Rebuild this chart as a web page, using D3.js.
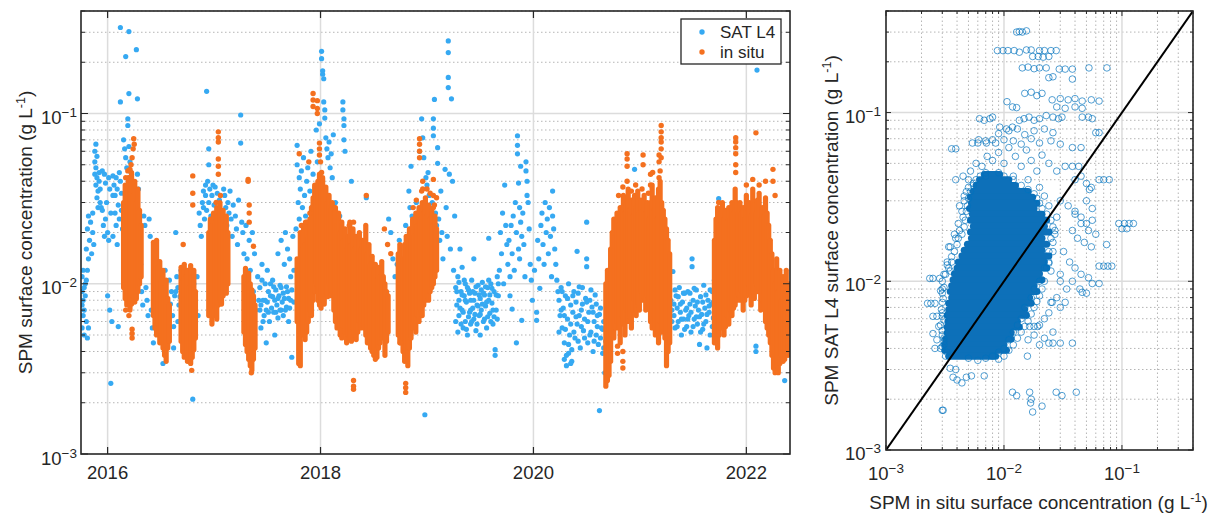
<!DOCTYPE html>
<html lang="en">
<head>
<meta charset="UTF-8">
<title>SPM SAT L4 vs in situ</title>
<script src="https://d3js.org/d3.v7.min.js"></script>
<style>
    body { margin: 0; background: #fff; }
    text { font-family: "Liberation Sans", Arial, Helvetica, sans-serif; fill: #262626; }
</style>
</head>
<body>
<script>
// all concentrations below are in mg/L (= 1e-3 g/L), time in decimal years

// satellite L4 series, [year, mg/L]
const satL4 = [
 [2015.76,11],[2015.76,9],[2015.76,7.5],[2015.76,5.5],[2015.77,12],[2015.77,8],[2015.77,6.5],[2015.78,9.5],[2015.78,7],[2015.78,5],[2015.79,10],[2015.79,8.5],[2015.8,10.5],[2015.8,6],[2015.81,12],[2015.81,4.8],[2015.82,14],[2015.82,5.5],
 [2015.8,16],[2015.81,21],[2015.82,25],[2015.83,18],[2015.84,23],[2015.85,15],[2015.86,20],[2015.86,26],[2015.87,17],
 [2015.88,60],[2015.88,52],[2015.88,44],[2015.89,66],[2015.89,48],[2015.89,38],[2015.9,56],[2015.9,42],[2015.9,32],[2015.91,35],[2015.91,28],[2015.92,45],[2015.92,40],[2015.93,36],[2015.93,30],[2015.94,28],
 [2015.95,46],[2015.95,27],[2015.96,22],[2015.97,44],[2015.97,19],[2015.98,39],[2015.98,24],[2015.99,30],[2016.0,20],[2016.0,8.5],[2016.01,42],[2016.01,18],[2016.02,36],[2016.02,7],[2016.03,2.6],[2016.03,26],[2016.04,6],[2016.05,33],
 [2016.05,43],[2016.05,19],[2016.06,38],[2016.07,33],[2016.07,26],[2016.08,42],[2016.08,22],[2016.09,36],[2016.09,17],[2016.1,29],[2016.1,5.6],[2016.11,45],[2016.11,24],
 [2016.12,320],[2016.12,117],[2016.12,40],[2016.13,34],[2016.13,27],[2016.14,21],[2016.15,16],[2016.15,70],[2016.16,62],[2016.17,216],[2016.17,55],[2016.18,48],[2016.19,93],[2016.19,85],
 [2016.2,303],[2016.2,131],[2016.2,64],[2016.21,52],[2016.22,45],[2016.23,38],[2016.24,33],[2016.25,25],[2016.26,30],[2016.27,237],[2016.28,122],[2016.28,44],[2016.29,36],[2016.3,20],[2016.31,13],[2016.32,9],[2016.33,7.5],
 [2016.34,25],[2016.35,22],[2016.36,9.5],[2016.37,8],[2016.38,6.5],[2016.39,24],[2016.4,19],[2016.41,7],[2016.42,5.5],[2016.43,4.5],[2016.44,10],
 [2016.48,13],[2016.49,11],[2016.5,9],[2016.51,6],[2016.52,4.5],[2016.52,3.4],[2016.54,12],[2016.55,8],[2016.56,5.5],[2016.57,7],[2016.58,10.5],[2016.6,9],[2016.61,6.5],[2016.62,4.2],[2016.63,8.5],[2016.64,20],[2016.65,11],[2016.66,9.5],[2016.67,7.5],[2016.68,6],[2016.69,12],[2016.7,10],[2016.71,5],[2016.72,4],
 [2016.47,8],[2016.5,6.8],[2016.53,9.6],[2016.55,4.4],[2016.57,5.8],[2016.59,7.6],[2016.62,5.6],[2016.64,9],[2016.66,6],[2016.68,8.4],[2016.7,7.2],[2016.71,6.4],
 [2016.74,11.5],[2016.75,9],[2016.77,7],[2016.78,12],[2016.8,2.1],[2016.81,10],[2016.82,8],[2016.84,11],[2016.85,6.5],
 [2016.86,26],[2016.87,22],[2016.88,19],[2016.89,30],[2016.9,35],[2016.9,28],[2016.91,24],[2016.92,38],[2016.92,33],[2016.93,135],[2016.93,27],[2016.94,40],[2016.95,62],[2016.95,50],[2016.95,30],[2016.96,36],[2016.97,25],[2016.98,33],[2016.98,21],[2016.99,38],[2017.0,29],[2017.01,37],[2017.02,26],[2017.03,34],[2017.04,20],[2017.05,31],[2017.06,18],[2017.07,24],
 [2017.09,36],[2017.1,33],[2017.11,28],[2017.12,22],[2017.13,30],[2017.14,26],[2017.15,35],[2017.16,24],[2017.17,19],[2017.18,29],[2017.2,25],[2017.21,21],[2017.22,17],[2017.23,31],[2017.25,98],[2017.25,67],[2017.26,23],[2017.27,20],[2017.28,15],
 [2017.3,22],[2017.31,14],[2017.33,18],[2017.34,12],[2017.36,20],[2017.37,9],[2017.38,15],[2017.39,7],[2017.41,11],[2017.42,8],
 [2017.43,9.5],[2017.44,7.5],[2017.44,5.5],[2017.45,13],[2017.46,8],[2017.47,6.5],[2017.48,10],[2017.49,7],[2017.49,4.5],[2017.5,12],[2017.51,9],[2017.52,6],[2017.53,8.5],[2017.54,7.2],[2017.55,10.5],[2017.56,6.8],[2017.57,8],[2017.57,5],[2017.58,9.2],[2017.59,7.5],[2017.6,15],[2017.6,6.3],
 [2017.61,8.5],[2017.62,7],[2017.63,18],[2017.63,9.5],[2017.64,7.8],[2017.65,6.5],[2017.66,13],[2017.66,8.2],[2017.67,20],[2017.68,7.3],[2017.69,16],[2017.69,9],[2017.7,6],[2017.71,14],[2017.72,11],[2017.72,8],[2017.73,3.7],[2017.74,19],[2017.75,12],
 [2017.43,7],[2017.45,10.5],[2017.46,6],[2017.48,8],[2017.5,7.8],[2017.51,6.8],[2017.53,10],[2017.55,8.4],[2017.56,9.6],[2017.58,6.8],[2017.6,8.2],[2017.62,9.8],[2017.63,7],[2017.65,8.8],[2017.67,7],[2017.68,9.6],[2017.7,8.2],[2017.71,7.2],[2017.73,9.2],[2017.75,7.8],
 [2017.77,21],[2017.78,65],[2017.78,50],[2017.79,30],[2017.8,42],[2017.8,24],[2017.81,36],[2017.82,46],[2017.83,28],[2017.84,55],[2017.85,33],[2017.86,25],[2017.87,40],[2017.88,48],[2017.89,22],[2017.9,35],[2017.91,60],[2017.92,28],[2017.93,44],[2017.95,37],[2017.96,80],[2017.97,52],
 [2017.99,87],[2018.01,232],[2018.01,210],[2018.02,178],[2018.02,170],[2018.03,160],[2018.03,117],[2018.04,105],[2018.04,94],[2018.05,72],[2018.06,62],[2018.07,55],[2018.08,68],[2018.09,48],[2018.1,58],[2018.11,42],[2018.12,75],
 [2018.14,30],[2018.18,25],[2018.21,117],[2018.21,105],[2018.22,93],[2018.22,85],[2018.22,70],[2018.23,60],[2018.26,12],[2018.29,40],[2018.33,8],[2018.38,6],[2018.43,32],
 [2018.44,9],[2018.47,6],[2018.5,10.5],[2018.53,7],[2018.56,5],[2018.6,8],[2018.62,6.5],
 [2018.64,24],[2018.66,20],[2018.68,14],[2018.7,11],[2018.72,13],[2018.74,18],[2018.76,10],[2018.78,12.5],[2018.8,22],[2018.82,16],[2018.83,35],[2018.84,28],[2018.85,49],[2018.86,25],[2018.88,19],[2018.9,30],
 [2018.93,60],[2018.95,93],[2018.96,72],[2018.97,55],[2018.98,1.7],[2018.99,42],[2019.0,38],[2019.01,45],[2019.02,33],[2019.03,28],[2019.05,30],[2019.06,93],[2019.06,82],[2019.06,74],[2019.07,121],[2019.08,26],[2019.09,22],[2019.1,63],[2019.1,51],[2019.11,24],[2019.12,18],
 [2019.13,35],[2019.14,20],[2019.15,14],[2019.17,47],[2019.18,28],[2019.19,19],[2019.2,267],[2019.2,228],[2019.2,163],[2019.2,142],[2019.21,44],[2019.22,16],[2019.23,122],[2019.24,40],[2019.25,12],[2019.26,25],
 [2019.27,9.5],[2019.28,7.5],[2019.29,11],[2019.3,8],[2019.3,6.5],[2019.31,16],[2019.32,9],[2019.33,12.5],[2019.33,7],[2019.34,5.5],[2019.35,8.5],[2019.36,10],[2019.36,6],[2019.37,7.8],[2019.38,5],[2019.39,9.2],[2019.4,6.8],[2019.41,8],[2019.41,5.8],[2019.42,10.5],[2019.43,7.2],[2019.44,14],[2019.44,6.2],
 [2019.45,8.8],[2019.46,5.3],[2019.47,7.5],[2019.48,9.8],[2019.49,6.5],[2019.5,8.2],[2019.5,5],[2019.51,7],[2019.52,10.2],[2019.53,6],[2019.54,8.6],[2019.55,7.4],[2019.56,5.5],[2019.57,9.5],[2019.58,18.5],[2019.58,8],[2019.59,6.7],[2019.6,10],[2019.61,7.7],[2019.62,5.8],[2019.63,9],[2019.64,4.1],[2019.64,3.8],[2019.65,7],[2019.66,11],[2019.67,8.5],
 [2019.27,6],[2019.28,9],[2019.29,5.2],[2019.3,10.2],[2019.31,7.2],[2019.32,5.8],[2019.33,8.6],[2019.34,6.8],[2019.35,10.5],[2019.36,8],[2019.37,5.4],[2019.38,9.5],[2019.39,6.4],[2019.4,8.8],[2019.41,7],[2019.42,6],[2019.43,9],[2019.44,8],[2019.45,6.6],[2019.46,9.6],
 [2019.47,5.8],[2019.48,7.4],[2019.49,8.6],[2019.5,6.6],[2019.51,9.2],[2019.52,7.6],[2019.53,8.8],[2019.54,6.2],[2019.55,9.6],[2019.56,7.8],[2019.57,6.4],[2019.58,10.5],[2019.59,8.6],[2019.6,6],[2019.61,9.4],[2019.62,7],[2019.63,6.4],[2019.65,8.6],[2019.66,6.2],[2019.67,10],
 [2019.68,12],[2019.69,20],[2019.7,15],[2019.71,26],[2019.72,10],[2019.73,38],[2019.74,22],[2019.75,17],
 [2019.76,13],[2019.77,18],[2019.78,11],[2019.78,8.5],[2019.79,22],[2019.8,15],[2019.8,7.1],[2019.81,25],[2019.82,12],[2019.83,30],[2019.84,20],[2019.84,4.5],[2019.85,74],[2019.85,65],[2019.85,58],[2019.86,39],[2019.86,16],[2019.87,28],[2019.87,14],[2019.88,49],[2019.88,23],[2019.89,6.1],[2019.89,19],
 [2019.9,26],[2019.91,17],[2019.92,11],[2019.93,52],[2019.93,46],[2019.94,40],[2019.94,33],[2019.95,30],[2019.96,21],[2019.97,13],[2019.98,10.5],[2019.99,8],
 [2020.01,12],[2020.03,6.8],[2020.03,6.1],[2020.04,18],[2020.05,14],[2020.06,9.4],[2020.07,22],[2020.08,26],[2020.09,17],[2020.1,13],[2020.11,30],[2020.12,20],[2020.13,24],[2020.14,15],[2020.15,28],[2020.16,19],[2020.17,11],[2020.18,35],[2020.18,25],[2020.19,21],[2020.2,16],[2020.21,13],[2020.22,10.5],[2020.23,9],
 [2020.24,8],[2020.25,6.5],[2020.26,9.5],[2020.27,5.5],[2020.28,7.2],[2020.29,4.5],[2020.3,8.5],[2020.31,3.8],[2020.32,6.2],[2020.33,10],[2020.34,5],[2020.35,7.5],[2020.36,3.5],[2020.37,6.8],[2020.38,9],[2020.39,4.8],[2020.4,7.8],[2020.41,15.5],[2020.41,5.8],[2020.42,8.8],[2020.43,6.5],[2020.44,4.2],
 [2020.45,7],[2020.46,9.5],[2020.47,5.3],[2020.48,6.2],[2020.49,8.2],[2020.5,23],[2020.5,14],[2020.5,12.6],[2020.51,4.5],[2020.52,6.8],[2020.53,8],[2020.54,5.2],[2020.55,7.3],[2020.56,4],[2020.57,6],[2020.58,8.6],[2020.59,5],[2020.6,6.5],[2020.61,4.4],[2020.62,1.8],[2020.63,7.2],[2020.64,5.5],[2020.65,3.9],[2020.66,6],[2020.67,3],[2020.68,4.6],
 [2020.24,5.2],[2020.26,7],[2020.27,9],[2020.29,6.5],[2020.3,5.4],[2020.32,8.2],[2020.33,4.4],[2020.35,5.8],[2020.37,8.5],[2020.38,5.2],[2020.4,6.4],[2020.42,4.6],[2020.43,9.6],[2020.45,5.6],[2020.46,7.6],[2020.48,4.8],[2020.5,7.8],[2020.51,6],[2020.53,5],[2020.54,9.2],
 [2020.56,6.8],[2020.57,4.6],[2020.59,7.6],[2020.6,5.6],[2020.62,6.6],[2020.63,4.8],[2020.65,5.4],[2020.66,4.2],[2020.29,3.6],[2020.31,3.3],[2020.33,3.9],[2020.35,3.4],[2020.36,4.1],
 [2020.85,12],[2020.9,9],[2020.95,47],[2020.97,20],[2020.99,14],[2021.0,30],[2021.02,11],[2021.04,18],[2021.06,9.5],[2021.08,22],
 [2021.28,9],[2021.3,7],[2021.31,11.8],[2021.32,6.5],[2021.33,5.5],[2021.34,8.5],[2021.35,7.2],[2021.36,6],[2021.37,9.5],[2021.38,6.8],[2021.39,5],[2021.4,7.8],[2021.41,6.2],[2021.42,8.8],[2021.43,7],[2021.44,5.6],[2021.45,9],[2021.46,6.5],[2021.47,7.6],[2021.48,5.2],[2021.49,14],[2021.49,12.6],
 [2021.5,8],[2021.51,6.2],[2021.52,7.4],[2021.53,9.2],[2021.54,5.8],[2021.55,7],[2021.56,4.4],[2021.57,8.4],[2021.58,6.6],[2021.59,5.4],[2021.6,9.8],[2021.61,7.2],[2021.62,6],[2021.63,4.2],[2021.64,8],[2021.65,6.8],[2021.66,5],[2021.67,7.6],[2021.68,9],[2021.69,6.3],[2021.7,10.5],
 [2021.29,8],[2021.3,6],[2021.32,7.6],[2021.33,9.2],[2021.35,5.6],[2021.36,8.4],[2021.38,7.6],[2021.39,6.2],[2021.41,8.8],[2021.42,5.4],[2021.44,7.2],[2021.45,6.2],[2021.47,8.8],[2021.48,6.8],
 [2021.5,5.6],[2021.51,9.4],[2021.53,6.4],[2021.54,7.8],[2021.56,6.4],[2021.57,5.2],[2021.59,7.8],[2021.6,5.8],[2021.62,8.6],[2021.63,6.6],[2021.65,7.4],[2021.66,9.2],[2021.68,5.6],[2021.69,7.8],
 [2021.74,31.6],[2021.75,25],[2021.8,20],[2021.86,24],[2021.9,16],[2021.95,22],[2022.0,28],[2022.03,19],[2022.06,30],[2022.09,4.3],[2022.09,4],[2022.1,180],[2022.12,21],[2022.15,17],[2022.18,26],[2022.22,12],[2022.25,5.6],[2022.28,4.8],[2022.31,6.5],[2022.33,4.2],[2022.36,2.7],[2022.38,5]
];

// in situ: dense daily stacks as [year, lowest, highest] ...
const inSituStacks = [
 [2016.15,9.5,30],[2016.165,8.2,38],[2016.18,7.5,34],[2016.195,8,42],[2016.21,7,36],[2016.225,7.6,45],[2016.24,8.5,33],[2016.255,7.8,40],[2016.27,8.2,30],[2016.285,9,36],[2016.3,10,27],[2016.315,11,22],
 [2016.43,6.5,17.5],[2016.445,5.5,14],[2016.46,5,18],[2016.475,5.8,12.5],[2016.49,4.5,13.5],[2016.505,4.8,10.5],[2016.52,4.2,12],[2016.535,3.8,9.5],[2016.55,3.5,10.5],[2016.565,4.2,8.2],[2016.58,4.6,7.5],
 [2016.69,4.6,12.5],[2016.705,4,10.5],[2016.72,3.7,13],[2016.735,3.9,11],[2016.75,3.5,12],[2016.765,3.6,9.5],[2016.78,3.4,12.8],[2016.795,3.7,11],[2016.81,4.1,12],[2016.825,4.8,9],
 [2016.95,6.5,20],[2016.965,7.5,24],[2016.98,5.8,22],[2016.995,6.5,26],[2017.01,7.2,23],[2017.025,6.2,28],[2017.04,7.5,25],[2017.055,8,30],[2017.07,7.6,24],[2017.085,8.5,27],[2017.1,9,22],[2017.115,8.8,25],[2017.13,10,20],
 [2017.28,5.2,11],[2017.295,4.4,12.3],[2017.31,4,10],[2017.325,3.6,11.5],[2017.34,3.3,10],[2017.355,3.1,9.2],[2017.37,3.6,8.5],[2017.385,4.2,7.5],
 [2017.78,6,14],[2017.795,3.4,12],[2017.81,3.3,20],[2017.825,5.5,16],[2017.84,5,22],[2017.855,4.7,17],[2017.87,5.2,23],[2017.885,6,19],[2017.9,7,24],[2017.915,6.5,28],[2017.93,8,32],[2017.945,9,38],
 [2017.96,10,36],[2017.975,8,40],[2017.99,7.5,44],[2018.005,7.2,38],[2018.02,8,42],[2018.035,7.6,35],[2018.05,9,37],[2018.065,8.4,30],[2018.08,10,33],[2018.095,8.5,28],[2018.11,9,30],[2018.125,7,26],
 [2018.14,6,28],[2018.155,5.5,22],[2018.17,6.5,26],[2018.185,5,20],[2018.2,4.8,23],[2018.215,5.6,18],[2018.23,5.2,21],[2018.245,4.5,16],[2018.26,5,19],[2018.275,4.8,23],[2018.29,4.6,17],[2018.305,5.5,21],[2018.32,5,16],[2018.335,4.7,19],[2018.35,5.2,15],[2018.365,6,20],[2018.38,5.5,16],[2018.395,6,18],
 [2018.41,5.5,18],[2018.425,5,22],[2018.44,4.5,15],[2018.455,4.8,17],[2018.47,4.2,13],[2018.485,4,14.5],[2018.5,3.8,12],[2018.515,3.6,13],[2018.53,3.7,10.5],[2018.545,4.2,12.5],[2018.56,4.5,11],[2018.575,4.8,13.5],[2018.59,5,11],[2018.605,3.8,10],[2018.62,4.6,9],[2018.635,5.2,8.5],
 [2018.73,5,15],[2018.745,4.5,17],[2018.76,4.8,13],[2018.775,4,14],[2018.79,3.5,17],[2018.805,3.8,19],[2018.82,3.3,16],[2018.835,4.2,21],[2018.85,4.8,18],[2018.865,5.5,24],[2018.88,6,19],[2018.895,5.2,26],[2018.91,6.5,22],
 [2018.925,6,28],[2018.94,7,24],[2018.955,6.5,30],[2018.97,7.5,26],[2018.985,8,32],[2019.0,8.5,25],[2019.015,8,29],[2019.03,9,24],[2019.045,9.5,27],[2019.06,10,22],[2019.075,11,25],[2019.09,12,21],
 [2020.68,2.5,10],[2020.695,2.7,12],[2020.71,2.9,9],[2020.725,3.5,16],[2020.74,5,20],[2020.755,4.8,24],[2020.77,5.5,19],[2020.785,6,26],[2020.8,5.5,22],[2020.815,4.5,28],[2020.83,6.5,24],[2020.845,5.8,33],[2020.86,5,26],[2020.875,7,30],
 [2020.89,6,36],[2020.905,6.4,27],[2020.92,5.5,31],[2020.935,7,25],[2020.95,8,33],[2020.965,6.5,28],[2020.98,7.5,35],[2020.995,7,26],[2021.01,9,31],[2021.025,8,27],[2021.04,8.4,33],[2021.055,7,26],[2021.07,8.5,30],[2021.085,7.5,24],
 [2021.1,6,30],[2021.115,5.5,38],[2021.13,6.5,27],[2021.145,5,32],[2021.16,5.4,24],[2021.175,4.5,36],[2021.19,6,40],[2021.205,5.2,30],[2021.22,5.5,27],[2021.235,4.8,24],[2021.25,3.3,21],[2021.265,4,18],[2021.28,4.5,15],
 [2021.7,4.5,18],[2021.715,5.2,24],[2021.73,4.2,28],[2021.745,5,22],[2021.76,5.5,26],[2021.775,6,30],[2021.79,5,24],[2021.805,5.6,27],[2021.82,6.5,23],[2021.835,5.8,28],[2021.85,7,24],[2021.865,6.5,30],[2021.88,7.2,26],[2021.895,7.5,36],[2021.91,8,30],[2021.925,8.6,26],
 [2021.94,8,30],[2021.955,9,26],[2021.97,7,28],[2021.985,8,24],[2022.0,8.5,33],[2022.015,10,27],[2022.03,8.6,30],[2022.045,7.5,25],[2022.06,9,36],[2022.075,8.2,29],[2022.09,10,26],[2022.105,9,31],[2022.12,9.4,34],[2022.135,7,24],[2022.15,8,28],[2022.165,7.2,25],[2022.18,6,32],[2022.195,5.5,26],[2022.21,5,22],
 [2022.225,4.5,18],[2022.24,3.8,15],[2022.255,3.2,12],[2022.27,3,10],[2022.285,3.3,14],[2022.3,3,9],[2022.315,3.4,12],[2022.33,3.8,8],[2022.345,3.5,11],[2022.36,3.6,8.5],[2022.375,4,12],[2022.39,3.8,9],[2022.405,4.2,10]
];

// ... and the scattered single in situ samples, [year, mg/L]
const inSituSingles = [
 [2016.17,42],[2016.19,46],[2016.21,47],[2016.22,50],[2016.23,55],[2016.24,62],[2016.245,71],[2016.25,66],[2016.23,5.4],[2016.23,5.1],[2016.23,4.8],[2016.17,7],[2016.2,6.5],
 [2016.71,17],[2016.79,3.1],[2016.8,43],[2016.8,34],[2016.8,29],
 [2017.04,78],[2017.04,72],[2017.04,68],[2017.04,54],[2017.04,49],[2017.04,44],[2017.06,33],[2017.02,30],
 [2017.32,41],[2017.32,40],[2017.33,29],[2017.33,26],[2017.33,23],[2017.35,3],[2017.37,16.6],
 [2017.8,58],[2017.82,22],[2017.86,23],[2017.89,52],[2017.9,26],[2017.93,131],[2017.93,120],[2017.93,110],[2017.97,119],[2017.97,107],[2017.97,100],[2017.99,67],[2017.99,62],[2017.99,57],[2018.0,52],[2018.01,45],
 [2018.13,28],[2018.27,22],[2018.31,23],[2018.31,2.7],[2018.31,2.5],[2018.31,2.4],[2018.43,33],[2018.6,21],[2018.63,17],[2018.66,15],[2018.75,4.5],
 [2018.8,2.6],[2018.8,2.45],[2018.8,2.3],[2018.87,28],[2018.9,31],[2018.93,71],[2018.93,66],[2018.93,60],[2018.93,55],[2018.95,35],[2018.96,40],[2018.96,36],[2019.0,36],[2019.03,34],[2019.06,41],[2019.06,33],[2019.06,28],[2019.07,29],[2019.09,32],
 [2020.79,4.3],[2020.79,3.9],[2020.8,33],[2020.84,4],[2020.84,3.5],[2020.84,3.2],[2020.84,37],[2020.88,40],[2020.88,58],[2020.88,54],[2020.88,49],[2020.92,35],[2020.96,38],[2021.02,36],[2021.03,57],[2021.03,50],[2021.08,34],
 [2021.1,44],[2021.1,38],[2021.12,45],[2021.18,42],[2021.18,57],[2021.18,52],[2021.19,46],[2021.2,85],[2021.2,78],[2021.2,72],[2021.2,68],[2021.2,62],[2021.2,55],
 [2021.74,30],[2021.9,45],[2021.9,72],[2021.9,68],[2021.9,63],[2021.9,58],[2021.9,50],[2022.0,38],[2022.06,41],[2022.09,77],[2022.12,38],[2022.18,40],[2022.25,47],[2022.25,40],[2022.27,33]
];

// matched pairs: dense core rows as [SAT L4, in situ lowest, in situ highest] ...
const pairRows = [
 [43,6.8,9.2],[40,6.2,11],[37,5.8,12.5],[34,5.5,16],[31.5,5.2,17.5],[29,5.3,19],[27,5.1,18],[25,5.4,21],[23,5.2,23],[21.2,5.5,22],[19.6,5.2,24],
 [18,5.3,21],[16.6,4.9,23],[15.3,4.6,21],[14.1,4.4,24],[13,4.1,22],[12,4,23],[11.1,3.8,20],[10.2,3.7,21],[9.4,3.6,18],[8.7,3.5,19],
 [8,3.6,16.5],[7.4,3.4,17],[6.8,3.4,15],[6.3,3.3,15.5],[5.8,3.35,13],[5.35,3.3,13.5],[4.95,3.3,11.5],[4.55,3.2,11.5],[4.2,3.15,10],[3.9,3.15,10.5],[3.6,3.4,8.5]
];

// ... and the individual pairs around it, [in situ, SAT L4]
const pairPoints = [
 [12.8,300],[13.5,302],[14.3,300],[15.5,305],
 [8.8,233],[9.8,233],[10.8,233],[12.2,233],[13.5,228],[15.5,235],[17,235],[20,233],[22,233],[25,233],[27.7,233],
 [17.5,215],[19.5,215],[21.5,213],[24,215],[14.3,184],[16,186],[18,182],[20,184],[22.8,184],[29.4,181],[33,181],[38,181],[52.5,184],[74.5,184],
 [24,161],[26,163],[38,158],[15,130],[17,132],[19,126],[21,130],[11.8,108],[10.6,116],[12.8,107],
 [25.6,119],[30,121],[35,119],[40,121],[46,117],[55,119],[64,117],[28,108],[33,106],[40,108],[46,106],
 [6.2,92],[6.8,90],[7.6,92],[8,94],[9.2,82],[10.5,80],[11.8,82],[13.5,90],[14.8,92],[16.3,94],[18,90],[20,92],[22.8,96],[26,94],[29,92],[31,94],[46,94],[52,94],[56,92],
 [3.6,61],[3.9,61],[5.4,66],[6.1,69],[7.1,66],[8,69],[10,69],
 [5.2,45],[5.8,50],[6.5,48],[7.2,55],[8,52],[9,58],[10,50],[11,62],[12.5,55],[14,48],[15.5,60],[17,52],[19,45],[21,56],[24,50],[28,45],[33,48],
 [6,66],[7,68],[8.5,66],[12,68],[14,65],[17,70],[20,66],[25,68],[30,65],[38,62],[45,62],[60,76],[64,76],
 [9,75],[11,78],[13,80],[15,74],[18,78],[22,80],[26,76],[40,40],[45,42],[50,38],[55,36],[5,40],[4.5,42],
 [64,40],[70,40],[78,40],[38,48],[43,48],[53,35],[50,30],[56,27],[56,23],[40,25],[45,22],[52,20],[60,19],[74,16.5],
 [94,22],[105,22],[115,22],[125,22],[100,20.5],[110,20.5],
 [30,30],[35,28],[40,26],[45,24],[50,22],[38,20],[42,18],[48,17],[55,16],[32,15],[36,13],[40,12],[45,11],[52,10.5],[30,10],[34,9],[28,8],[25,7.5],[30,7],[24,6.5],[22,6],[20,5.5],[26,5],[22,4.6],[18,4.8],[16,4.5],[20,4.2],
 [64,12.3],[70,12.3],[76,12.3],[82,12.3],[56,9.7],[64,9.7],[46,8.6],[25.6,7.5],[33,7.5],[24,12.8],[30,11],[38,10],[44,9],[50,8.5],
 [2.35,10.4],[2.5,10.4],[2.85,10.4],[2.25,7.4],[2.4,7.4],[2.6,7.4],[2.5,6.2],[2.7,6.2],[3,6.2],[2.5,4.9],[2.7,4.5],[2.9,4],[2.6,4],[3.1,4.4],[2.8,5.4],
 [3,8.5],[3.1,9.2],[3.2,11],[3.3,12.5],[3.6,14],[3.4,16],[3.9,18],[4.2,20],[4.5,24],[4.2,28],[4.6,32],[5,36],[3.9,40],
 [3.5,3.05],[3.9,3],[3.7,2.7],[4,2.6],[4.4,2.5],[4.8,2.7],[5.3,2.75],[6.8,2.75],[3,1.72],[3.05,1.72],
 [11.8,2.2],[12.8,2.1],[16.5,2.2],[17,2],[16.8,1.9],[17.5,1.68],[21,1.82],[27.7,2.2],[31,2.1],[41,2.2],
 [15.8,3.6],[24,4.3],[26,4.3],[30,4.3],[38,4.3],[16.5,5.4],[18,5.4],[19.3,5.4],
 [5,3.5],[6,3.4],[7,3.5],[8,3.6],[9,3.8],[10,4],[11,4.5],[12,5],[13,5.5],[14,6],[15,7],[17,8],[18,9],[20,10],[22,12],[24,13],[26,15],[25,18],[27,20],[28,24],[24,28],[22,32],[20,36],[16,40],[12,42],[9,44],[7,42],
 [5.5,38],[4.8,34],[4.6,30],[4.4,26],[4.1,22],[3.8,19],[3.5,16],[3.3,13],[3.1,11],[3,9],[3,7.5],[3,6.5],[2.9,5.5],[3,4.8],[3.1,4.2],[3.3,3.8],
 [3,10],[2.9,8.8],[3.05,7.9],[2.95,6.8],[3.1,5.9],[3,5.1],[3.1,4.6],[3,4.1],[3.2,3.6],[3.4,12],[3.6,13],[3.5,11.5],[3.8,15],[4,16.5],[4.1,18],[4.4,19],[4.6,21],[4.7,23],[4.8,26],[4.9,28],[5,31],[5.2,34],[5.5,37],[5.8,40],[6.3,42],[7,44],
 [24,15],[26,17],[27,19],[26,21],[25,23],[23,25],[21,27],[20,29],[19,31],[18,33],[16,35],[14,37],[12,40],[10,42],[23,12],[25,11.5],[22,10],[21,9],[20,8.2],[19,7.6],[18,7],[17,6.4],[16,5.8],[15,5.4],[14,5],[13,4.6],[12,4.2],[11,3.9],[10,3.6],[9,3.45]
];

const yearTicks = [2016, 2018, 2020, 2022];
const decadeTicks = [1e-3, 1e-2, 1e-1];
const decadeLabels = ["\u22123", "\u22122", "\u22121"];

const satColor = "#36a9f2";
const inSituColor = "#f4701f";
const pairColor = "#0072bd";
const ink = "#262626";

const gl = v => v / 1000;   // mg/L -> g/L

const svg = d3.select("body").append("svg")
    .attr("width", 1223)
    .attr("height", 518);

const isDecade = v => Math.abs(Math.log10(v) - Math.round(Math.log10(v))) < 1e-6;

function pow10(sel, exp, size) {
    sel.append("tspan").text("10");
    sel.append("tspan").attr("dy", -7).attr("font-size", size).text(exp);
}

function unitLabel(sel, txt) {
    sel.append("tspan").text(txt + " (g L");
    sel.append("tspan").attr("dy", -7).attr("font-size", 12.5).text("-1");
    sel.append("tspan").attr("dy", 7).text(")");
}

// ========== left panel: time series ==========
const xT = d3.scaleLinear().domain([2015.75, 2022.41]).range([81, 790]);
const yT = d3.scaleLog().domain([1e-3, 0.4]).range([454, 11]);
const [lx0, lx1] = xT.range();
const [ly0, ly1] = yT.range();
const yTicksAll = yT.ticks();
const yMinor = yTicksAll.filter(v => !isDecade(v));

const left = svg.append("g");

left.selectAll(".minor").data(yMinor).join("line")
    .attr("x1", lx0).attr("x2", lx1)
    .attr("y1", d => yT(d)).attr("y2", d => yT(d))
    .attr("stroke", "#b5b5b5").attr("stroke-width", 1).attr("stroke-dasharray", "1.5,2.5");

left.selectAll(".hmajor").data(decadeTicks.slice(1)).join("line")
    .attr("x1", lx0).attr("x2", lx1)
    .attr("y1", d => yT(d)).attr("y2", d => yT(d))
    .attr("stroke", "#dcdcdc").attr("stroke-width", 1.5);

left.selectAll(".vmajor").data(yearTicks).join("line")
    .attr("x1", d => xT(d)).attr("x2", d => xT(d))
    .attr("y1", ly0).attr("y2", ly1)
    .attr("stroke", "#dcdcdc").attr("stroke-width", 1.5);

svg.append("clipPath").attr("id", "clipL").append("rect")
    .attr("x", lx0).attr("y", ly1).attr("width", lx1 - lx0).attr("height", ly0 - ly1);

const pts = left.append("g").attr("clip-path", "url(#clipL)");

pts.selectAll(".sat").data(satL4).join("circle")
    .attr("cx", d => xT(d[0])).attr("cy", d => yT(gl(d[1])))
    .attr("r", 2.6).attr("fill", satColor);

pts.selectAll(".stack").data(inSituStacks).join("line")
    .attr("x1", d => xT(d[0])).attr("x2", d => xT(d[0]))
    .attr("y1", d => yT(gl(d[1]))).attr("y2", d => yT(gl(d[2])))
    .attr("stroke", inSituColor).attr("stroke-width", 5.2).attr("stroke-linecap", "round");

pts.selectAll(".insitu").data(inSituSingles).join("circle")
    .attr("cx", d => xT(d[0])).attr("cy", d => yT(gl(d[1])))
    .attr("r", 2.7).attr("fill", inSituColor);

// ticks (inside, both sides)
left.selectAll(".ytk").data(yTicksAll).join("path")
    .attr("d", d => {
        const y = yT(d), n = isDecade(d) ? 7 : 4;
        return `M${lx0},${y}h${n}M${lx1},${y}h${-n}`;
    })
    .attr("stroke", ink).attr("stroke-width", 1);
left.selectAll(".xtk").data(yearTicks).join("path")
    .attr("d", d => `M${xT(d)},${ly0}v-7M${xT(d)},${ly1}v7`)
    .attr("stroke", ink).attr("stroke-width", 1.2);

left.append("rect")
    .attr("x", lx0).attr("y", ly1).attr("width", lx1 - lx0).attr("height", ly0 - ly1)
    .attr("fill", "none").attr("stroke", ink).attr("stroke-width", 1.6);

left.selectAll(".xlab").data(yearTicks).join("text")
    .attr("x", d => xT(d)).attr("y", ly0 + 25)
    .attr("text-anchor", "middle").attr("font-size", 18.5)
    .text(d => d);

left.selectAll(".ylab").data(decadeTicks).join("text")
    .attr("x", lx0 - 4).attr("y", d => yT(d) + 10.5)
    .attr("text-anchor", "end").attr("font-size", 18.5)
    .each(function(d, i) { pow10(d3.select(this), decadeLabels[i], 13.5); });

left.append("text")
    .attr("transform", `translate(32,${(ly0 + ly1) / 2}) rotate(-90)`)
    .attr("text-anchor", "middle").attr("font-size", 19)
    .call(unitLabel, "SPM surface concentration");

// legend
const lg = left.append("g");
lg.append("rect").attr("x", 681).attr("y", 19).attr("width", 100).attr("height", 45)
    .attr("fill", "#fff").attr("stroke", ink).attr("stroke-width", 1.3);
lg.selectAll("circle").data([satColor, inSituColor]).join("circle")
    .attr("cx", 702).attr("cy", (d, i) => 32 + i * 20).attr("r", 2.7).attr("fill", d => d);
lg.selectAll("text").data(["SAT L4", "in situ"]).join("text")
    .attr("x", 720).attr("y", (d, i) => 38 + i * 20).attr("font-size", 17).text(d => d);

// ========== right panel: SAT L4 vs in situ ==========
const xS = d3.scaleLog().domain([1e-3, 0.4]).range([886, 1193]);
const yS = d3.scaleLog().domain([1e-3, 0.4]).range([450, 11]);
const [rx0, rx1] = xS.range();
const [ry0, ry1] = yS.range();
const sTicks = xS.ticks();
const sMinor = sTicks.filter(v => !isDecade(v));

const right = svg.append("g");

right.selectAll(".hmin").data(sMinor).join("line")
    .attr("x1", rx0).attr("x2", rx1).attr("y1", d => yS(d)).attr("y2", d => yS(d))
    .attr("stroke", "#b5b5b5").attr("stroke-width", 1).attr("stroke-dasharray", "1.5,2.5");
right.selectAll(".vmin").data(sMinor).join("line")
    .attr("x1", d => xS(d)).attr("x2", d => xS(d)).attr("y1", ry0).attr("y2", ry1)
    .attr("stroke", "#b5b5b5").attr("stroke-width", 1).attr("stroke-dasharray", "1.5,2.5");
right.selectAll(".hmaj").data(decadeTicks.slice(1)).join("line")
    .attr("x1", rx0).attr("x2", rx1).attr("y1", d => yS(d)).attr("y2", d => yS(d))
    .attr("stroke", "#dcdcdc").attr("stroke-width", 1.5);
right.selectAll(".vmaj").data(decadeTicks.slice(1)).join("line")
    .attr("x1", d => xS(d)).attr("x2", d => xS(d)).attr("y1", ry0).attr("y2", ry1)
    .attr("stroke", "#dcdcdc").attr("stroke-width", 1.5);

svg.append("clipPath").attr("id", "clipR").append("rect")
    .attr("x", rx0).attr("y", ry1).attr("width", rx1 - rx0).attr("height", ry0 - ry1);
const sc = right.append("g").attr("clip-path", "url(#clipR)");

sc.selectAll(".row").data(pairRows).join("line")
    .attr("x1", d => xS(gl(d[1]))).attr("x2", d => xS(gl(d[2])))
    .attr("y1", d => yS(gl(d[0]))).attr("y2", d => yS(gl(d[0])))
    .attr("stroke", "#0d70b9")
    .attr("stroke-width", 7).attr("stroke-linecap", "round");

sc.selectAll(".pair").data(pairPoints).join("circle")
    .attr("cx", d => xS(gl(d[0]))).attr("cy", d => yS(gl(d[1])))
    .attr("r", 3.3).attr("fill", "none")
    .attr("stroke", pairColor).attr("stroke-opacity", 0.75).attr("stroke-width", 0.9);

// 1:1 line
sc.append("line")
    .attr("x1", xS(1e-3)).attr("y1", yS(1e-3)).attr("x2", xS(0.4)).attr("y2", yS(0.4))
    .attr("stroke", "#000").attr("stroke-width", 2);

right.selectAll(".rytk").data(sTicks).join("path")
    .attr("d", d => {
        const y = yS(d), n = isDecade(d) ? 5 : 3;
        return `M${rx0},${y}h${n}M${rx1},${y}h${-n}`;
    })
    .attr("stroke", ink).attr("stroke-width", 1);
right.selectAll(".rxtk").data(sTicks).join("path")
    .attr("d", d => {
        const x = xS(d), n = isDecade(d) ? 5 : 3;
        return `M${x},${ry0}v${-n}M${x},${ry1}v${n}`;
    })
    .attr("stroke", ink).attr("stroke-width", 1);

right.append("rect")
    .attr("x", rx0).attr("y", ry1).attr("width", rx1 - rx0).attr("height", ry0 - ry1)
    .attr("fill", "none").attr("stroke", ink).attr("stroke-width", 1.6);

right.selectAll(".rxlab").data(decadeTicks).join("text")
    .attr("x", d => xS(d)).attr("y", ry0 + 30)
    .attr("text-anchor", "middle").attr("font-size", 18.5)
    .each(function(d, i) { pow10(d3.select(this), decadeLabels[i], 13.5); });

right.selectAll(".rylab").data(decadeTicks).join("text")
    .attr("x", rx0 - 5).attr("y", d => yS(d) + 10)
    .attr("text-anchor", "end").attr("font-size", 18.5)
    .each(function(d, i) { pow10(d3.select(this), decadeLabels[i], 13.5); });

right.append("text")
    .attr("transform", `translate(838,${(ry0 + ry1) / 2}) rotate(-90)`)
    .attr("text-anchor", "middle").attr("font-size", 19)
    .call(unitLabel, "SPM SAT L4 surface concentration");

right.append("text")
    .attr("x", (rx0 + rx1) / 2 - 1).attr("y", 509)
    .attr("text-anchor", "middle").attr("font-size", 19)
    .call(unitLabel, "SPM in situ surface concentration");
</script>
</body>
</html>
